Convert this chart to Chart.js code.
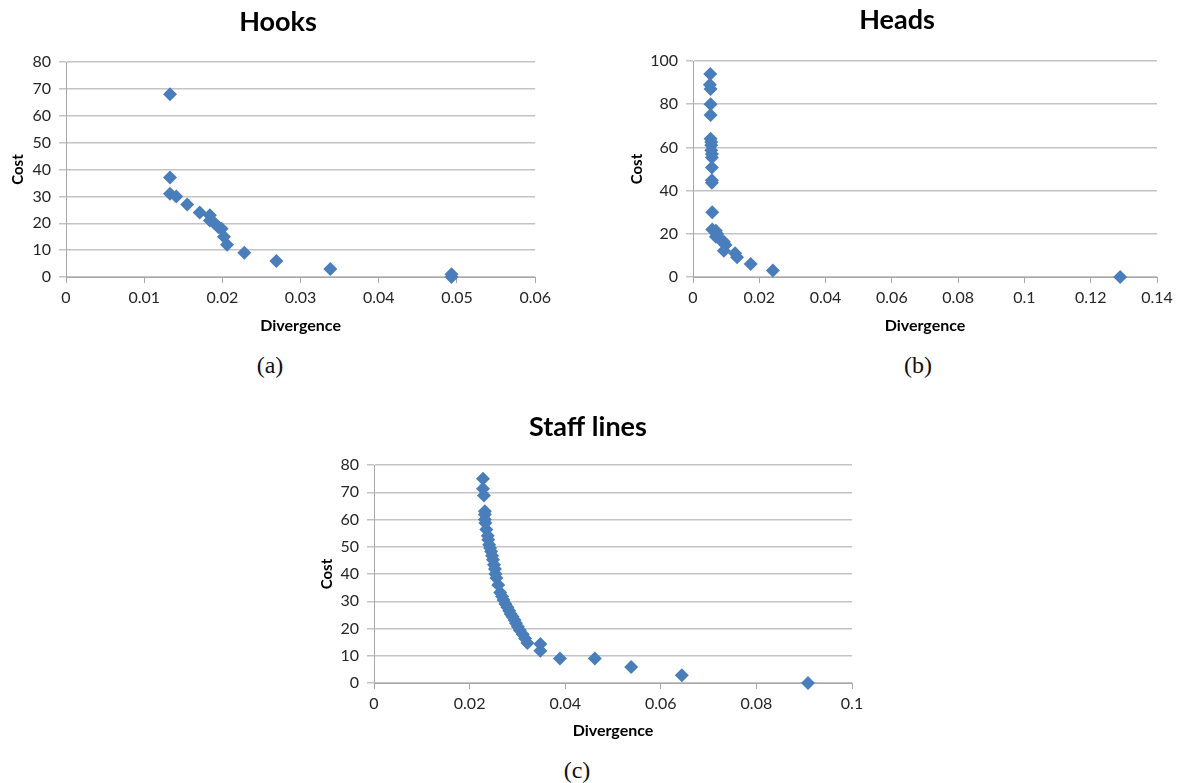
<!DOCTYPE html>
<html>
<head>
<meta charset="utf-8">
<script src="https://cdn.jsdelivr.net/npm/chart.js@4/dist/chart.umd.min.js"></script>
<style>
  body { margin: 0; background: #fff; }
  #page { position: relative; width: 1180px; height: 783px; overflow: hidden; }
  canvas { position: absolute; }
  .caption {
    position: absolute;
    font-family: "Liberation Serif", "DejaVu Serif", serif;
    font-size: 24px;
    color: #111;
    transform: translate(-50%, -50%);
  }
</style>
</head>
<body>
<div id="page">
  <canvas id="hooks" width="556" height="345" style="left:0;top:0"></canvas>
  <canvas id="heads" width="566" height="345" style="left:614px;top:0"></canvas>
  <canvas id="staff" width="594" height="345" style="left:278px;top:400px"></canvas>
  <div class="caption" style="left:270px;top:365px">(a)</div>
  <div class="caption" style="left:918px;top:365px">(b)</div>
  <div class="caption" style="left:577px;top:770px">(c)</div>
</div>
<script>
// values
const hooksDivergence = [0.0133, 0.0133, 0.0133, 0.0141, 0.0155, 0.0171, 0.0184, 0.0184, 0.0190,
  0.0195, 0.0199, 0.0202, 0.0206, 0.0228, 0.0269, 0.0338, 0.0493, 0.0493]
const hooksCost = [68, 37, 31, 30, 27, 24, 23, 21, 20, 18.5, 18, 15, 12, 9, 6, 3, 1, 0]

const headsDivergence = [0.0052, 0.0051, 0.0053, 0.0053, 0.0053, 0.0053, 0.0055, 0.0055, 0.0055,
  0.0057, 0.0057, 0.0057, 0.0057, 0.0057, 0.0058, 0.0058, 0.0069, 0.0073, 0.0069, 0.0080, 0.0093,
  0.0098, 0.0093, 0.0127, 0.0133, 0.0174, 0.0241, 0.1289]
const headsCost = [94, 89, 87, 80, 75, 64, 62.5, 61, 58.7, 57, 55.3, 50.7, 44.8, 43.6, 30, 22,
  21.4, 19.9, 18.6, 17.6, 16.3, 14.8, 12.2, 11, 9.1, 6, 3, 0]

const staffDivergence = [0.0228, 0.0228, 0.0230, 0.0232, 0.0232, 0.0232, 0.0233, 0.0235, 0.0238,
  0.0239, 0.0241, 0.0243, 0.0245, 0.0247, 0.0249, 0.0251, 0.0253, 0.0254, 0.0256, 0.0260, 0.0264,
  0.0268, 0.0271, 0.0275, 0.0279, 0.0283, 0.0286, 0.0290, 0.0294, 0.0297, 0.0301, 0.0305, 0.0311,
  0.0316, 0.0321, 0.0348, 0.0348, 0.0389, 0.0462, 0.0538, 0.0644, 0.0908]
const staffCost = [75, 71.3, 68.8, 63, 61.8, 60, 58.7, 56.3, 54, 52.6, 50.7, 49.5, 48.3, 46.7,
  45.2, 43.4, 41.8, 40, 38.5, 36, 33.2, 31.7, 30.5, 29, 27.8, 26.5, 25.3, 24.3, 23.1, 21.9, 20.6,
  19.4, 17.9, 16.3, 14.7, 14.3, 11.8, 9, 9, 5.9, 2.8, 0]

const markerColor = '#4a7ebb'
const gridColor = '#c4c4c4'
const axisColor = '#a8a8a8'
const textColor = '#262626'
const fontFamily = 'Lato, "Open Sans", sans-serif'

function makeChart(id, title, divergence, cost, cfg) {
  const points = divergence.map((x, i) => ({ x: x, y: cost[i] }))
  return new Chart(document.getElementById(id), {
    type: 'scatter',
    data: {
      datasets: [{
        data: points,
        pointStyle: 'rectRot',
        pointRadius: 7,
        pointBorderWidth: 0,
        backgroundColor: markerColor,
        borderColor: markerColor,
        clip: false
      }]
    },
    options: {
      responsive: false,
      animation: false,
      devicePixelRatio: 1,
      // left padding shifts the centred title to where the original had it
      layout: { padding: { left: cfg.left, right: cfg.right, top: 0, bottom: 0 } },
      plugins: {
        legend: { display: false },
        tooltip: { enabled: false },
        title: {
          display: true,
          text: title,
          color: '#000',
          font: { family: fontFamily, size: 27, weight: 'bold', lineHeight: 1.2 },
          padding: { top: cfg.titleTop, bottom: cfg.titleBottom }
        }
      },
      scales: {
        x: {
          type: 'linear',
          min: 0,
          max: cfg.xMax,
          afterFit: (scale) => { scale.height = cfg.xHeight },
          ticks: {
            stepSize: cfg.xStep,
            padding: 5,
            color: textColor,
            font: { family: fontFamily, size: 16 },
            callback: (v) => String(Math.round(v * 1000) / 1000)
          },
          grid: { drawOnChartArea: false, drawTicks: true, tickLength: 6, color: axisColor },
          border: { color: axisColor, width: 1 },
          title: {
            display: true,
            text: 'Divergence',
            color: '#000',
            font: { family: fontFamily, size: 16, weight: 'bold' },
            padding: { bottom: cfg.xTitlePad }
          }
        },
        y: {
          min: 0,
          max: cfg.yMax,
          afterFit: (scale) => { scale.width = cfg.yWidth },
          ticks: {
            stepSize: cfg.yStep,
            padding: 8,
            color: textColor,
            font: { family: fontFamily, size: 16 }
          },
          grid: { color: gridColor, lineWidth: 1.5, tickLength: 7 },
          border: { color: axisColor, width: 1 },
          title: {
            display: true,
            text: 'Cost',
            color: '#000',
            font: { family: fontFamily, size: 15, weight: 'bold' },
            padding: { top: cfg.yTitlePad }
          }
        }
      }
    }
  })
}

makeChart('hooks', 'Hooks', hooksDivergence, hooksCost, {
  xMax: 0.06, xStep: 0.01, yMax: 80, yStep: 10,
  left: 17, right: 17, titleTop: 6, titleBottom: 23.6, xHeight: 68, yWidth: 49,
  xTitlePad: 10, yTitlePad: -8
})

makeChart('heads', 'Heads', headsDivergence, headsCost, {
  xMax: 0.14, xStep: 0.02, yMax: 100, yStep: 20,
  left: 23, right: 23, titleTop: 4, titleBottom: 24.6, xHeight: 68, yWidth: 56,
  xTitlePad: 10, yTitlePad: -9
})

makeChart('staff', 'Staff lines', staffDivergence, staffCost, {
  xMax: 0.1, xStep: 0.02, yMax: 80, yStep: 10,
  left: 46, right: 20, titleTop: 11, titleBottom: 21.6, xHeight: 62, yWidth: 50,
  xTitlePad: 5, yTitlePad: -6
})
</script>
</body>
</html>
